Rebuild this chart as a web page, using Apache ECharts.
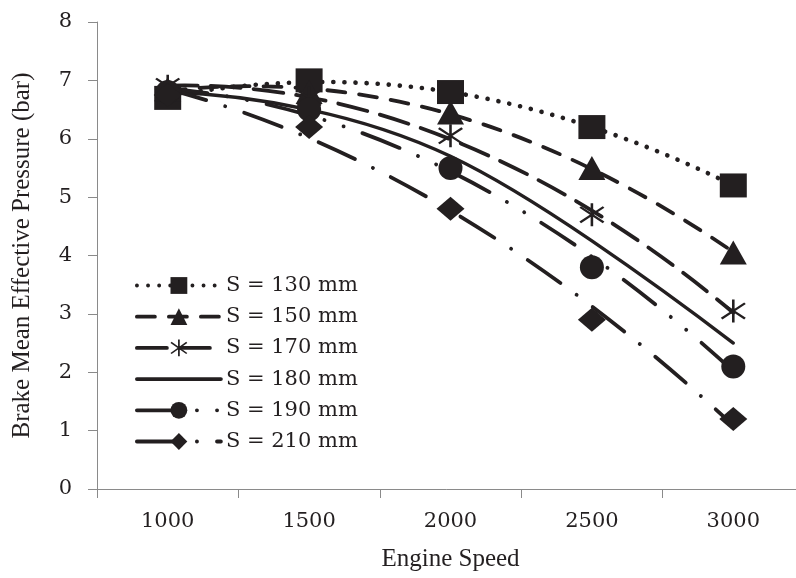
<!DOCTYPE html>
<html><head><meta charset="utf-8">
<script src="https://cdn.jsdelivr.net/npm/echarts@6/dist/echarts.min.js"></script>
<style>html,body{margin:0;padding:0;background:#fff}#c{width:796px;height:578px}</style>
</head><body><div id="c"></div>
<script>
// ---- data ----
const speeds = ['1000', '1500', '2000', '2500', '3000'];
const yTicks = [0, 1, 2, 3, 4, 5, 6, 7, 8];
const seriesNames = ['S = 130 mm', 'S = 150 mm', 'S = 170 mm', 'S = 180 mm', 'S = 190 mm', 'S = 210 mm'];
// measured points (markers)
const pts130 = [6.7, 7.0, 6.8, 6.2, 5.2];
const pts150 = [6.85, 6.8, 6.45, 5.5, 4.05];
const pts170 = [6.9, 6.7, 6.05, 4.7, 3.05];
const pts190 = [6.8, 6.5, 5.5, 3.8, 2.1];
const pts210 = [6.75, 6.2, 4.8, 2.9, 1.2];
// trend curves (at every speed)
const trend130 = [6.72, 6.97, 6.8, 6.2, 5.2];
const trend150 = [6.82, 6.86, 6.42, 5.48, 4.06];
const trend170 = [6.91, 6.71, 5.99, 4.77, 3.02];
const trend180 = [6.8, 6.5, 5.7, 4.25, 2.5];
const trend190 = [6.86, 6.4, 5.44, 3.98, 2.02];
const trend210 = [6.85, 6.01, 4.77, 3.13, 1.09];

// ---- styles ----
const INK = '#231f20';
const AXIS = '#8a8a8a';
const NUMFONT = 'DejaVu Serif';
const TITLEFONT = 'Liberation Serif';
const asterisk = 'path://M10.9 0L13.1 0L13.1 24L10.9 24Z M2.69 3.14L22.69 19.14L21.31 20.86L1.31 4.86Z M22.69 4.86L2.69 20.86L1.31 19.14L21.31 3.14Z';

const defs = [
  {name: seriesNames[0], trend: trend130, pts: pts130, symbol: 'rect', size: [27, 24], dash: [0.1, 11], width: 4.6},
  {name: seriesNames[1], trend: trend150, pts: pts150, symbol: 'triangle', size: [27, 24], dash: [18, 14], width: 3.8},
  {name: seriesNames[2], trend: trend170, pts: pts170, symbol: asterisk, size: [25, 23], dash: [30, 13], width: 3.8},
  {name: seriesNames[3], trend: trend180, pts: null, symbol: 'rect', size: 0, dash: 'solid', width: 3.4},
  {name: seriesNames[4], trend: trend190, pts: pts190, symbol: 'circle', size: 24, dash: [40, 20, 0.1, 20, 0.1, 20], width: 3.8},
  {name: seriesNames[5], trend: trend210, pts: pts210, symbol: 'diamond', size: [28, 24], dash: [40, 20, 0.1, 20], width: 3.8}
];

// smooth spline path through pixel points (parabolic run-out cubic spline)
function splinePath(p) {
  const n = p.length;
  const h = p[1][0] - p[0][0];
  const m = n - 2;
  const a = [], b = [], c = [], r = [];
  for (let k = 0; k < m; k++) {
    const i = k + 1;
    r[k] = 6 / (h * h) * (p[i + 1][1] - 2 * p[i][1] + p[i - 1][1]);
    a[k] = 1; c[k] = 1;
    b[k] = 4 + (k === 0 ? 1 : 0) + (k === m - 1 ? 1 : 0);
  }
  for (let k = 1; k < m; k++) {
    const w = a[k] / b[k - 1];
    b[k] -= w * c[k - 1];
    r[k] -= w * r[k - 1];
  }
  const Mi = new Array(m);
  Mi[m - 1] = r[m - 1] / b[m - 1];
  for (let k = m - 2; k >= 0; k--) Mi[k] = (r[k] - c[k] * Mi[k + 1]) / b[k];
  const M = [Mi[0]].concat(Mi, [Mi[m - 1]]);
  let d = 'M' + p[0][0] + ' ' + p[0][1];
  for (let i = 0; i < n - 1; i++) {
    const s = (p[i + 1][1] - p[i][1]) / h;
    const d0 = s - h * (2 * M[i] + M[i + 1]) / 6;
    const d1 = s + h * (M[i] + 2 * M[i + 1]) / 6;
    d += 'C' + (p[i][0] + h / 3) + ' ' + (p[i][1] + d0 * h / 3) + ' ' +
         (p[i + 1][0] - h / 3) + ' ' + (p[i + 1][1] - d1 * h / 3) + ' ' +
         p[i + 1][0] + ' ' + p[i + 1][1];
  }
  return d;
}

const series = [];
defs.forEach(d => {
  // legend proxy (shows line style + marker in the legend)
  series.push({
    type: 'line', name: d.name, data: [], showSymbol: false,
    symbol: d.symbol, symbolSize: 14, silent: true,
    lineStyle: {color: INK, width: d.width, type: d.dash, cap: 'round'},
    itemStyle: {color: INK}
  });
  // trend curve
  series.push({
    type: 'custom', name: d.name + ' trend', silent: true, z: 2,
    data: d.trend.map((v, i) => [i, v]),
    renderItem: function (params, api) {
      if (params.dataIndex !== 0) return null;
      const pts = d.trend.map((v, i) => api.coord([i, v]));
      return {
        type: 'path',
        shape: {pathData: splinePath(pts)},
        style: {fill: 'none', stroke: INK, lineWidth: d.width,
                lineDash: d.dash === 'solid' ? null : d.dash, lineCap: 'round', lineJoin: 'round'}
      };
    }
  });
  if (d.pts) {
    series.push({
      type: 'scatter', name: d.name + ' pts', data: d.pts, symbol: d.symbol,
      symbolSize: d.size, itemStyle: {color: INK, opacity: 1}, z: 3, silent: true
    });
  }
});

const chart = echarts.init(document.getElementById('c'), null, {renderer: 'canvas'});
chart.setOption({
  animation: false,
  backgroundColor: '#fff',
  grid: {left: 97, width: 707, top: 22, bottom: 89, outerBoundsMode: 'none', containLabel: false},
  legend: {
    orient: 'vertical', left: 130, top: 270, itemWidth: 84, itemHeight: 21, itemGap: 10.2,
    data: seriesNames.map(n => n === 'S = 180 mm' ? {name: n, itemStyle: {opacity: 0}} : n),
    lineStyle: {width: 3.8},
    textStyle: {fontFamily: NUMFONT, fontSize: 21, color: INK},
    selectedMode: false
  },
  xAxis: {
    type: 'category', data: speeds, boundaryGap: true,
    axisLine: {lineStyle: {color: AXIS, width: 1}},
    axisTick: {show: true, length: 9, alignWithLabel: false, lineStyle: {color: AXIS}},
    axisLabel: {fontFamily: NUMFONT, fontSize: 21, color: INK, margin: 22},
    splitLine: {show: false},
    name: 'Engine Speed', nameLocation: 'middle', nameGap: 58,
    nameTextStyle: {fontFamily: TITLEFONT, fontSize: 25, color: INK}
  },
  yAxis: {
    type: 'value', min: yTicks[0], max: yTicks[yTicks.length - 1], interval: 1,
    axisLine: {show: true, lineStyle: {color: AXIS, width: 1}},
    axisTick: {show: true, length: 9, lineStyle: {color: AXIS}},
    axisLabel: {fontFamily: NUMFONT, fontSize: 21, color: INK, margin: 25},
    splitLine: {show: false},
    name: 'Brake Mean Effective Pressure (bar)', nameLocation: 'middle', nameGap: 62, nameRotate: 90,
    nameTextStyle: {fontFamily: TITLEFONT, fontSize: 25, color: INK}
  },
  series: series
});
</script></body></html>
